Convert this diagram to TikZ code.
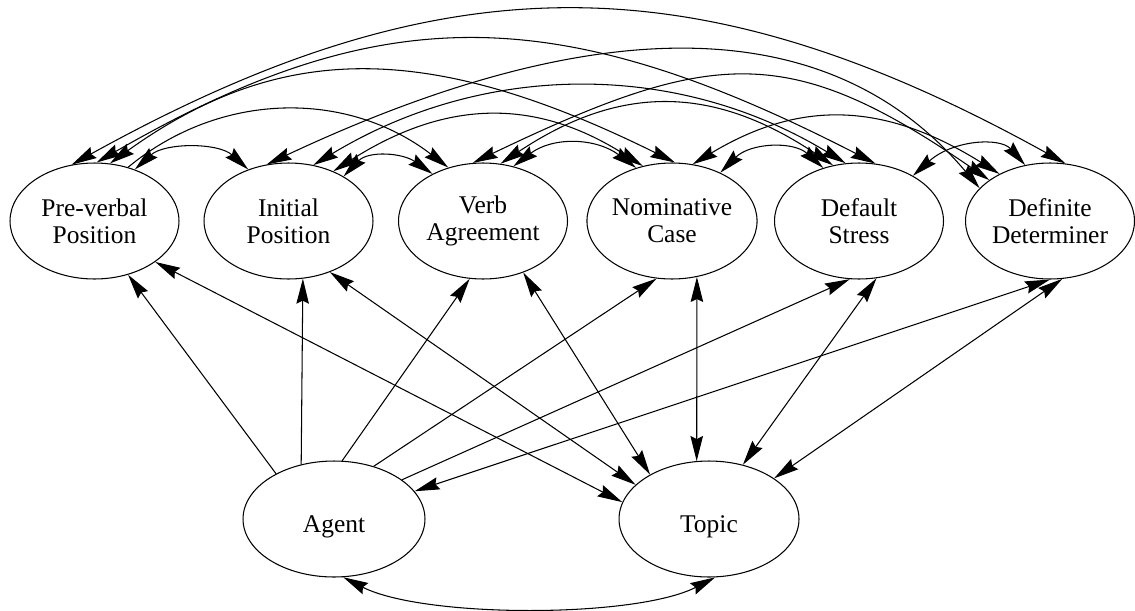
\documentclass[tikz,border=0pt]{standalone}
\usepackage{fontspec}
\setmainfont{Liberation Serif}
\usetikzlibrary{shapes.geometric, arrows.meta}

\begin{document}
\begin{tikzpicture}[x=0.02cm, y=0.02cm, line width=0.6pt,
    >={Stealth[length=0.5cm, width=0.25cm, inset=0.06cm]},
    cue/.style={draw, ellipse, minimum width=3.38cm, minimum height=2.32cm, inner sep=0pt, align=center,
                font=\fontsize{14.5}{15.2}\selectfont, execute at begin node={\rule{0pt}{0.64cm}}}]
                  \useasboundingbox (0,0) rectangle (1135,610);

                  \node[cue] (pv) at (94.5,389) {Pre-verbal\\Position};
                  \node[cue] (ini) at (288.5,389) {Initial\\Position};
                  \node[cue] (verb) at (483,389) {Verb\\Agreement};
                  \node[cue] (nom) at (672,389) {Nominative\\Case};
                  \node[cue] (dstress) at (859,389) {Default\\Stress};
                  \node[cue] (ddet) at (1050,389) {Definite\\Determiner};
                  \node[cue, minimum width=3.64cm] (agent) at (334,91) {Agent};
                  \node[cue, minimum width=3.6cm] (topic) at (709,91) {Topic};

                  \draw[<->] (pv.52) .. controls +(30,27) and +(-30,27) .. (ini.128);
                  \draw[<->] (ini.39) .. controls +(25,26) and +(-30,21) .. (verb.137);
                  \draw[<->] (verb.61) .. controls +(40,30) and +(-40,30) .. (nom.124);
                  \draw[<->] (nom.45) .. controls +(30,30) and +(-30,27) .. (dstress.124);
                  \draw[<->] (dstress.40) .. controls +(40,36) and +(-25,28) .. (ddet.114);
                  \draw[->] (pv.58) .. controls +(93,77) and +(-100,77) .. (verb.123);
                  \draw[<->] (ini.48) .. controls +(110,70) and +(-110,70) .. (nom.118);
                  \draw[<->] (verb.73) .. controls +(120,80) and +(-120,80) .. (dstress.115);
                  \draw[<->] (nom.70) .. controls +(100,60) and +(-123,77) .. (ddet.137);
                  \draw[<->] (pv.75) .. controls +(170,122) and +(-246,122) .. (nom.87);
                  \draw[<->] (ini.66) .. controls +(170,103) and +(-170,103) .. (dstress.103);
                  \draw[<->] (verb.100) .. controls +(240,115) and +(-200,138) .. (ddet.146);
                  \draw[<->] (pv.88) .. controls +(284,164) and +(-319,164) .. (dstress.74);
                  \draw[<->] (ini.111) .. controls +(330,155) and +(-150,178) .. (ddet.155);
                  \draw[<->] (pv.112) .. controls +(370,205) and +(-370,205) .. (ddet.75);

                  \draw[->] (agent.142) -- (pv.-58);
                  \draw[->] (agent.121) -- (ini.-76);
                  \draw[->] (agent.82) -- (verb.-103);
                  \draw[->] (agent.53) -- (nom.-105);
                  \draw[->] (agent.30) -- (dstress.-99);
                  \draw[<->] (agent.19) -- (ddet.-90);

                  \draw[<->] (pv.-34) -- (topic.169);
                  \draw[<->] (ini.-51) -- (topic.155);
                  \draw[<->] (verb.-52) -- (topic.143);
                  \draw[<->] (nom.-66) -- (topic.102);
                  \draw[<->] (dstress.-73) -- (topic.58);
                  \draw[<->] (ddet.-78) -- (topic.32);

                  \draw[<->] (agent.-81) .. controls +(80,-41) and +(-80,-41) .. (topic.-84);
              \end{tikzpicture}
\end{document}
